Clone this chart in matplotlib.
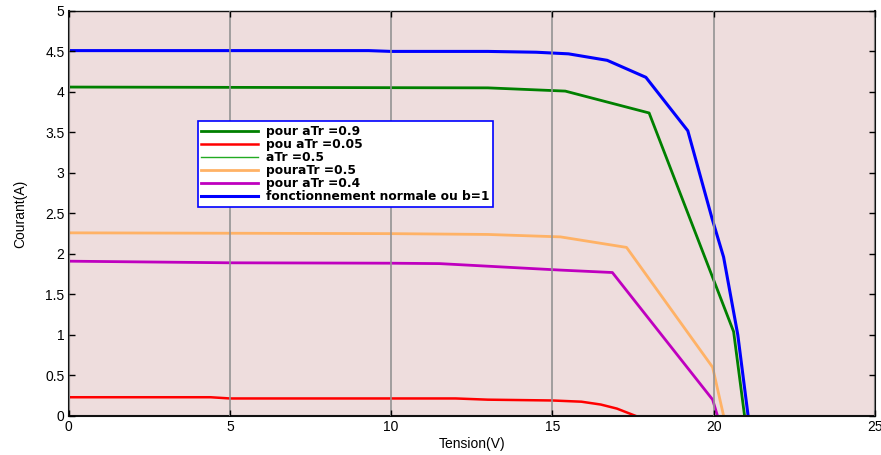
import matplotlib
matplotlib.use("Agg")
import matplotlib.pyplot as plt

plt.rcParams['font.family'] = ['Liberation Sans', 'DejaVu Sans']

# I-V characteristics (Tension in V, Courant in A)
v_b1 = [0, 9.3, 10, 13, 14.5, 15.5, 16.7, 17.9, 19.2, 19.95, 20.31, 20.75, 21.07]
i_b1 = [4.51, 4.51, 4.50, 4.50, 4.49, 4.47, 4.39, 4.18, 3.52, 2.44, 1.96, 1.0, 0.0]

v_09 = [0, 13, 15.4, 18.0, 20.62, 20.96]
i_09 = [4.06, 4.05, 4.01, 3.74, 1.04, 0.0]

v_005 = [0, 4.4, 5, 12, 13, 15, 15.9, 16.5, 17.0, 17.58]
i_005 = [0.23, 0.23, 0.215, 0.215, 0.2, 0.19, 0.175, 0.14, 0.09, 0.0]

v_05a = []
i_05a = []

v_05 = [0, 10, 13, 15.25, 17.3, 19.97, 20.31]
i_05 = [2.26, 2.25, 2.24, 2.21, 2.08, 0.6, 0.0]

v_04 = [0, 5, 10, 11.5, 15.25, 16.86, 19.97, 20.12]
i_04 = [1.91, 1.89, 1.885, 1.88, 1.80, 1.77, 0.2, 0.0]

labels = ["pour aTr =0.9", "pou aTr =0.05", "aTr =0.5", "pouraTr =0.5",
          "pour aTr =0.4", "fonctionnement normale ou b=1"]

xticks = [0, 5, 10, 15, 20, 25]
yticks = [0, 0.5, 1, 1.5, 2, 2.5, 3, 3.5, 4, 4.5, 5]

fig = plt.figure(figsize=(8.81, 4.55), dpi=100)
ax = fig.add_axes([0.078, 0.086, 0.915, 0.89])
ax.set_facecolor('#EEDDDD')

ax.plot(v_09, i_09, color='#008000', lw=2, label=labels[0])
ax.plot(v_005, i_005, color='#FF0000', lw=1.8, label=labels[1])
ax.plot(v_05a, i_05a, color='#22AA22', lw=1, label=labels[2])
ax.plot(v_05, i_05, color='#FFB266', lw=2, label=labels[3])
ax.plot(v_04, i_04, color='#BF00BF', lw=2, label=labels[4])
ax.plot(v_b1, i_b1, color='#0000FF', lw=2.2, label=labels[5])

ax.set_xlim(0, 25)
ax.set_ylim(0, 5)
ax.set_xticks(xticks)
ax.set_xticklabels([str(t) for t in xticks])
ax.set_yticks(yticks)
ax.set_yticklabels(["0", "0.5", "1", "1.5", "2", "2.5", "3", "3.5", "4", "4.5", "5"])
ax.tick_params(direction='in', length=4, width=1, top=True, right=True,
               labelsize=10, pad=3)
ax.grid(axis='x', color='#939393', lw=1.2)
ax.set_axisbelow(False)
for s in ax.spines.values():
    s.set_linewidth(1.5)
    s.set_color('#111111')
ax.spines['top'].set_linewidth(1.0)

ax.set_xlabel("Tension(V)", fontsize=10, labelpad=2)
ax.set_ylabel("Courant(A)", fontsize=10, labelpad=13)

leg = ax.legend(loc='upper left', bbox_to_anchor=(0.16, 0.727), frameon=True,
                fancybox=False, handlelength=4.6,
                prop={'family': 'DejaVu Sans', 'weight': 'bold', 'size': 8.8},
                borderpad=0.3, labelspacing=0.0, handletextpad=0.7,
                borderaxespad=0)
leg.get_frame().set_edgecolor('#0000FF')
leg.get_frame().set_linewidth(1.2)
leg.get_frame().set_facecolor('white')
leg.get_frame().set_alpha(1)

fig.savefig("out.png", dpi=100)
